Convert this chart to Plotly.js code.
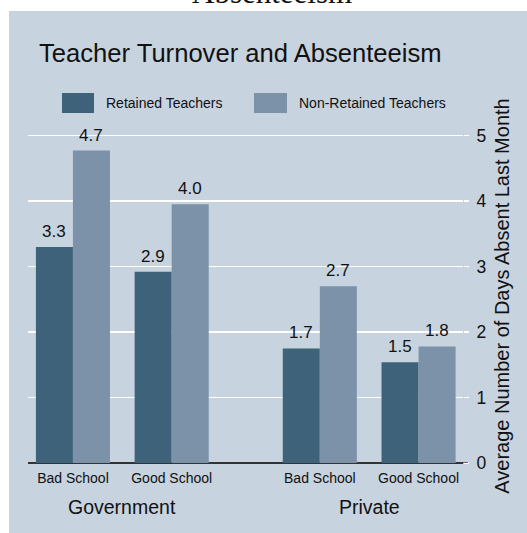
<!DOCTYPE html>
<html>
<head>
<meta charset="utf-8">
<script src="https://cdn.plot.ly/plotly-3.0.1.min.js"></script>
<style>
  html, body { margin: 0; padding: 0; background: #ffffff; }
  #chart { width: 527px; height: 533px; }
</style>
</head>
<body>
<div id="chart"></div>
<script>
// ---- data ----
const sectors = ["Government", "Private"];
const schools = ["Bad School", "Good School"];
const seriesNames = ["Retained Teachers", "Non-Retained Teachers"];
const retainedValues = [3.30, 2.92, 1.75, 1.54];
const nonRetainedValues = [4.77, 3.95, 2.70, 1.78];
const retainedLabels = ["3.3", "2.9", "1.7", "1.5"];
const nonRetainedLabels = ["4.7", "4.0", "2.7", "1.8"];
const yTitle = "Average Number of Days Absent Last Month";
const chartTitle = "Teacher Turnover and Absenteeism";
const outerTitle = "Absenteeism";

// ---- layout helpers ----
const GROUP_GAP = 0.5;
const BARGAP = 0.25;
const xs = [];
const tickText = [];
const sectorCenters = [];
sectors.forEach((s, gi) => {
  const pos = [];
  schools.forEach((c, ci) => {
    const p = gi * (schools.length + GROUP_GAP) + ci;
    xs.push(p); tickText.push(c); pos.push(p);
  });
  sectorCenters.push(pos.reduce((a, b) => a + b, 0) / pos.length);
});

const FONT = "Liberation Sans, Arial, Helvetica, sans-serif";
const DARK = "#3e6279";
const LIGHT = "#7b92a9";
const PANEL = "#c7d3df";

const seriesValues = [retainedValues, nonRetainedValues];
const seriesLabels = [retainedLabels, nonRetainedLabels];
const seriesColors = [DARK, LIGHT];

const traces = seriesValues.map((vals, si) => ({
  type: "bar", name: seriesNames[si], x: xs, y: vals,
  marker: { color: seriesColors[si], line: { width: 0 } }, hoverinfo: "skip"
}));

// value labels placed above each bar via the data axes
const barW = (1 - BARGAP) / seriesValues.length;
const valueAnnotations = [];
seriesValues.forEach((vals, si) => {
  const off = -((1 - BARGAP) / 2) + barW * (si + 0.5);
  vals.forEach((v, i) => {
    valueAnnotations.push({
      text: seriesLabels[si][i], xref: "x", yref: "y",
      x: xs[i] + off, y: v, xanchor: "center", yanchor: "bottom", yshift: 4,
      showarrow: false, font: { family: FONT, size: 17, color: "#111" }
    });
  });
});

const L = 28, R = 64, T = 129, B = 70, W = 527, H = 533;
const pw = W - L - R, ph = H - T - B;
const px2x = p => (p - L) / pw;
const py2y = p => (H - B - p) / ph;

const layout = {
  width: W, height: H,
  margin: { l: L, r: R, t: T, b: B, pad: 0 },
  paper_bgcolor: "#ffffff",
  plot_bgcolor: "rgba(0,0,0,0)",
  font: { family: FONT, color: "#111" },
  showlegend: false,
  barmode: "group",
  bargap: BARGAP,
  bargroupgap: 0,
  title: {
    text: chartTitle,
    font: { family: FONT, size: 25.6, color: "#111" },
    xref: "paper", x: px2x(39), xanchor: "left",
    yref: "container", y: 1 - 53.5 / H, yanchor: "middle"
  },
  xaxis: {
    range: [-0.455, 3.95],
    tickvals: xs, ticktext: tickText,
    tickfont: { family: FONT, size: 14, color: "#111" },
    ticks: "outside", ticklen: 2, tickcolor: "rgba(0,0,0,0)",
    showgrid: false, zeroline: false, showline: false, fixedrange: true
  },
  yaxis: {
    side: "right",
    range: [0, 5.1],
    dtick: 1, tick0: 0,
    showgrid: true, gridcolor: "#ffffff", gridwidth: 1.5,
    zeroline: true, zerolinecolor: "#333333", zerolinewidth: 1.5,
    ticks: "outside", ticklen: 5, tickcolor: "#ffffff", tickwidth: 1.5,
    ticklabelstandoff: 4,
    tickfont: { family: FONT, size: 17.5, color: "#111" },
    title: { text: yTitle, font: { family: FONT, size: 20, color: "#111" }, standoff: 9 },
    showline: false, fixedrange: true
  },
  shapes: [
    { type: "rect", xref: "paper", yref: "paper", layer: "below",
      x0: px2x(9), x1: px2x(W + 2), y0: py2y(H + 2), y1: py2y(11),
      fillcolor: PANEL, line: { width: 0 } },
    { type: "line", xref: "paper", yref: "y", layer: "above",
      x0: 1, x1: px2x(468), y0: 0, y1: 0,
      line: { color: "#333333", width: 1.5 } },
    { type: "rect", xref: "paper", yref: "paper",
      x0: px2x(62), x1: px2x(94), y0: py2y(113), y1: py2y(93),
      fillcolor: DARK, line: { width: 0 } },
    { type: "rect", xref: "paper", yref: "paper",
      x0: px2x(254), x1: px2x(287), y0: py2y(113), y1: py2y(93),
      fillcolor: LIGHT, line: { width: 0 } }
  ],
  annotations: [
    { text: seriesNames[0], xref: "paper", yref: "paper",
      x: px2x(104), y: py2y(103), xanchor: "left", yanchor: "middle",
      showarrow: false, font: { family: FONT, size: 14, color: "#111" } },
    { text: seriesNames[1], xref: "paper", yref: "paper",
      x: px2x(297), y: py2y(103), xanchor: "left", yanchor: "middle",
      showarrow: false, font: { family: FONT, size: 14, color: "#111" } },
    { text: outerTitle, xref: "paper", yref: "paper",
      x: px2x(272.4), y: py2y(12), xanchor: "center", yanchor: "bottom",
      showarrow: false, font: { family: "Liberation Serif, Times New Roman, serif", size: 31, color: "#111" } }
  ].concat(sectors.map((s, i) => ({
    text: s, xref: "x", yref: "paper",
    x: sectorCenters[i], y: py2y(507), xanchor: "center", yanchor: "middle",
    showarrow: false, font: { family: FONT, size: 19.5, color: "#111" }
  }))).concat(valueAnnotations)
};

Plotly.newPlot("chart", traces, layout, { displayModeBar: false, staticPlot: true });
</script>
</body>
</html>
